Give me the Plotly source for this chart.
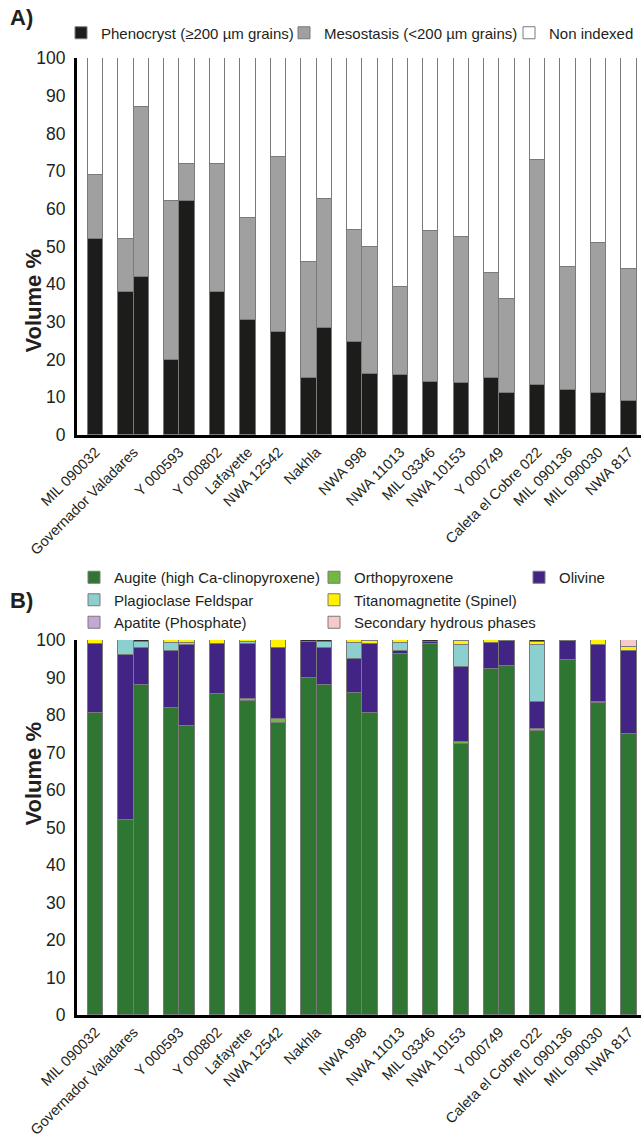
import plotly.graph_objects as go

# ---------------- data ----------------
samples = ["MIL 090032", "Governador Valadares", "Y 000593", "Y 000802", "Lafayette",
           "NWA 12542", "Nakhla", "NWA 998", "NWA 11013", "MIL 03346", "NWA 10153",
           "Y 000749", "Caleta el Cobre 022", "MIL 090136", "MIL 090030", "NWA 817"]
bars_per_sample = [1, 2, 2, 1, 1, 1, 2, 2, 1, 1, 1, 2, 1, 1, 1, 1]

# Panel A (volume %, per bar)
phenocryst = [52, 38, 42, 20, 62, 38, 30.5, 27.4, 15, 28.5, 24.8, 16.1, 16, 14, 13.8, 15, 11.1, 13.2, 11.9, 11.1, 9]
mesostasis = [17, 14, 45, 42, 10, 34, 27, 46.3, 31, 34, 29.7, 33.9, 23.2, 40, 38.7, 28, 24.9, 59.8, 32.6, 39.9, 35]
non_indexed = [31, 48, 13, 38, 28, 28, 42.5, 26.3, 54, 37.5, 45.5, 50, 60.8, 46, 47.5, 57, 64, 27, 55.5, 49, 56]

# Panel B (volume %, per bar)
augite =     [80.5, 52, 88, 82, 77, 85.5, 83.8, 78, 89.8, 88, 86, 80.5, 96.3, 99, 72.3, 92.2, 93, 75.8, 94.8, 83.3, 75]
opx =        [0, 0, 0, 0, 0, 0, 0.6, 1, 0, 0, 0, 0, 0, 0, 0.4, 0, 0, 0.4, 0, 0.2, 0]
olivine =    [18.5, 44, 10, 15, 21.6, 13.5, 14.6, 18.8, 9.7, 9.8, 9, 18.5, 0.8, 0.6, 20.1, 6.9, 6.8, 7.2, 4.9, 15.3, 22]
plagioclase = [0, 4, 1.5, 2.2, 0.7, 0, 0.4, 0, 0, 1.7, 4.2, 0, 2.0, 0, 6.0, 0, 0, 15.3, 0, 0, 0]
titanomag =  [1.0, 0, 0, 0.8, 0.7, 1.0, 0.6, 2.2, 0, 0, 0.8, 0.7, 0.9, 0, 0.9, 0.9, 0, 0.9, 0, 1.2, 1.2]
apatite =    [0] * 21
secondary =  [0] * 20 + [1.8]
other =      [0, 0, 0.5, 0, 0, 0, 0, 0, 0.5, 0.5, 0, 0.3, 0, 0.4, 0.3, 0, 0.2, 0.4, 0.3, 0, 0]

y_ticks = list(range(0, 101, 10))

# ---------------- positions derived from grouping ----------------
positions, centers = [], []
k = 0
for n in bars_per_sample:
    grp = list(range(k, k + n))
    positions += grp
    centers.append(sum(grp) / n)
    k += n + 1

W, H = 641, 1140
FONT = "Liberation Sans, Arial, sans-serif"
TXT = "#231f20"
EDGE = "#7a7a7a"

def px_x(p):
    return p / W

def px_y(p):
    return 1 - p / H

fig = go.Figure()

def add(vals, name, color, xa, ya, legend, show=True):
    fig.add_trace(go.Bar(
        x=positions, y=vals, width=1, name=name,
        marker=dict(color=color, line=dict(color=EDGE, width=1)),
        xaxis=xa, yaxis=ya, legend=legend, showlegend=show,
        hovertemplate=name + ": %{y}<extra></extra>"))

add(phenocryst, "Phenocryst (≥200 µm grains)", "#1c1c1a", "x", "y", "legend")
add(mesostasis, "Mesostasis (<200 µm grains)", "#a0a0a0", "x", "y", "legend2")
add(non_indexed, "Non indexed", "#ffffff", "x", "y", "legend3")

add(augite, "Augite (high Ca-clinopyroxene)", "#2e7631", "x2", "y2", "legend4")
add(opx, "Orthopyroxene", "#72b843", "x2", "y2", "legend5")
add(olivine, "Olivine", "#412483", "x2", "y2", "legend6")
add(plagioclase, "Plagioclase Feldspar", "#8ccfcf", "x2", "y2", "legend4")
add(titanomag, "Titanomagnetite (Spinel)", "#fff100", "x2", "y2", "legend5")
add(apatite, "Apatite (Phosphate)", "#c3a8d6", "x2", "y2", "legend4")
add(secondary, "Secondary hydrous phases", "#f8c9c9", "x2", "y2", "legend5")
add(other, "Other", "#2b2b2b", "x2", "y2", "legend6", show=False)

x_dom = [77 / W, 1]
x_rng = [-1.22, 35.79]
axis_common = dict(showgrid=False, zeroline=False, showline=True, linecolor="black",
                   linewidth=3, automargin=False)

xa = dict(domain=x_dom, range=x_rng, tickmode="array", tickvals=centers, ticktext=samples,
          tickangle=-45, tickfont=dict(size=14.5, family=FONT, color=TXT), ticks="", **axis_common)
ya = dict(range=[0, 100], tickmode="array", tickvals=y_ticks, ticks="outside", ticklen=5,
          tickcolor="rgba(0,0,0,0)", tickfont=dict(size=17.5, family=FONT, color=TXT), **axis_common)

def leg(x, y, yanchor="middle"):
    return dict(x=px_x(x), y=px_y(y), xref="container", yref="container",
                xanchor="left", yanchor=yanchor, orientation="v",
                bgcolor="rgba(0,0,0,0)", traceorder="normal", tracegroupgap=0,
                font=dict(size=15, family=FONT, color=TXT), itemclick=False, itemdoubleclick=False)

fig.update_layout(
    width=W, height=H, autosize=False,
    margin=dict(l=0, r=0, t=0, b=0, autoexpand=False),
    paper_bgcolor="white", plot_bgcolor="white",
    barmode="stack", bargap=0,
    xaxis=dict(anchor="y", **xa),
    yaxis=dict(anchor="x", domain=[px_y(435), px_y(58)], **ya),
    xaxis2=dict(anchor="y2", **xa),
    yaxis2=dict(anchor="x2", domain=[px_y(1015), px_y(640)], **ya),
    legend=leg(61, 33), legend2=leg(284, 33), legend3=leg(509, 33),
    legend4=leg(74, 561, "top"), legend5=leg(314, 561, "top"), legend6=leg(519, 561, "top"),
    annotations=[
        dict(text="<b>A)</b>", x=px_x(8), y=px_y(17), xref="paper", yref="paper", xanchor="left",
             yanchor="middle", showarrow=False, font=dict(size=22, family=FONT, color=TXT)),
        dict(text="<b>B)</b>", x=px_x(8), y=px_y(600), xref="paper", yref="paper", xanchor="left",
             yanchor="middle", showarrow=False, font=dict(size=22, family=FONT, color=TXT)),
        dict(text="<b>Volume %</b>", x=px_x(18), y=px_y(247), xref="paper", yref="paper",
             textangle=-90, showarrow=False, font=dict(size=22, family=FONT, color=TXT)),
        dict(text="<b>Volume %</b>", x=px_x(18), y=px_y(828), xref="paper", yref="paper",
             textangle=-90, showarrow=False, font=dict(size=22, family=FONT, color=TXT)),
    ],
)

fig.write_html("out.html")
